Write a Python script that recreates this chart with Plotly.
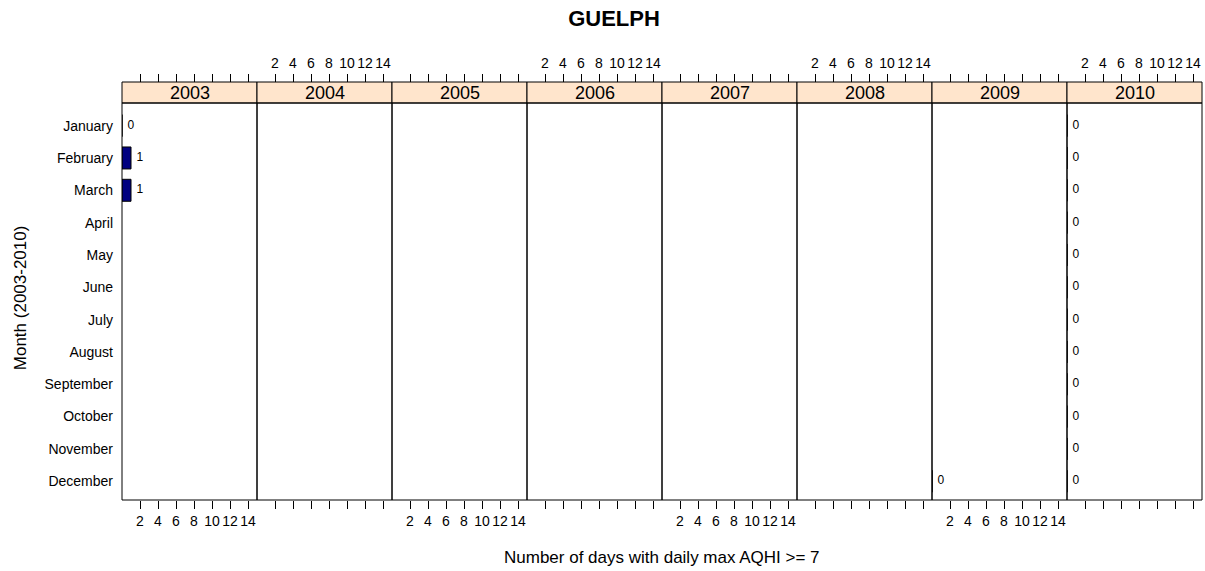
import plotly.graph_objects as go

years = ["2003", "2004", "2005", "2006", "2007", "2008", "2009", "2010"]
months = ["January", "February", "March", "April", "May", "June", "July",
          "August", "September", "October", "November", "December"]
N = None
counts_2003 = [0, 1, 1, N, N, N, N, N, N, N, N, N]
counts_2004 = [N] * 12
counts_2005 = [N] * 12
counts_2006 = [N] * 12
counts_2007 = [N] * 12
counts_2008 = [N] * 12
counts_2009 = [N, N, N, N, N, N, N, N, N, N, N, 0]
counts_2010 = [0, 0, 0, 0, 0, 0, 0, 0, 0, 0, 0, 0]
all_counts = [counts_2003, counts_2004, counts_2005, counts_2006,
              counts_2007, counts_2008, counts_2009, counts_2010]
x_ticks = [2, 4, 6, 8, 10, 12, 14]

FONT = "Liberation Sans, Arial, sans-serif"
W, H = 1205, 571
ML, MR, MT, MB = 122, 3, 82, 71
plot_h = H - MT - MB
ytop = 397 / plot_h  # top of panel area (strip above)
npan = len(years)

fig = go.Figure()
layout = dict(
    width=W, height=H, margin=dict(l=ML, r=MR, t=MT, b=MB, autoexpand=False),
    paper_bgcolor="white", plot_bgcolor="white", showlegend=False,
    font=dict(family=FONT, color="black"),
)

shapes, annotations = [], []
for i, (yr, cnt) in enumerate(zip(years, all_counts)):
    xa = "x" if i == 0 else f"x{i+1}"
    xt = f"x{i+1+npan}"
    d0, d1 = i / npan, (i + 1) / npan
    ys = [m for m, v in enumerate(cnt) if v is not None]
    xs = [v for v in cnt if v is not None]
    fig.add_trace(go.Bar(x=xs, y=ys, orientation="h", width=0.68,
                         marker=dict(color="#000080", line=dict(color="black", width=1)),
                         xaxis=xa, yaxis="y", hoverinfo="skip"))
    fig.add_trace(go.Scatter(x=xs, y=ys, mode="markers+text", text=[str(v) for v in xs],
                             textposition="middle right",
                             marker=dict(size=7, opacity=0),
                             textfont=dict(size=12, family=FONT, color="black"),
                             xaxis=xa, yaxis="y", hoverinfo="skip"))
    fig.add_trace(go.Scatter(x=[], y=[], xaxis=xt, yaxis="y", hoverinfo="skip"))
    common = dict(range=[0, 15], tickvals=x_ticks, ticks="outside", ticklen=8,
                  tickcolor="black", tickwidth=1, showgrid=False, zeroline=False,
                  showline=False, fixedrange=True, automargin=False,
                  tickfont=dict(size=14, family=FONT, color="black"))
    layout["xaxis" if i == 0 else f"xaxis{i+1}"] = dict(
        domain=[d0, d1], anchor="y", side="bottom",
        showticklabels=(i % 2 == 0), **common)
    layout[f"xaxis{i+1+npan}"] = dict(
        domain=[d0, d1], anchor="free", position=1, side="top",
        overlaying=xa, showticklabels=(i % 2 == 1), **common)
    shapes.append(dict(type="rect", xref="paper", yref="paper", x0=d0, x1=d1,
                       y0=ytop, y1=1, fillcolor="#FFE5CC",
                       line=dict(color="black", width=1), layer="below"))
    shapes.append(dict(type="rect", xref="paper", yref="paper", x0=d0, x1=d1,
                       y0=0, y1=ytop, line=dict(color="black", width=1), layer="above"))
    annotations.append(dict(text=yr, xref="paper", yref="paper", x=(d0 + d1) / 2,
                            y=(ytop + 1) / 2, xanchor="center", yanchor="middle",
                            showarrow=False, font=dict(size=18, family=FONT, color="black")))

layout["yaxis"] = dict(domain=[0, ytop], range=[11.58, -0.70], tickvals=list(range(12)),
                       ticktext=months, ticks="", showgrid=False, zeroline=False,
                       showline=False, fixedrange=True, ticklabelstandoff=8,
                       automargin=False,
                       tickfont=dict(size=14, family=FONT, color="black"))

annotations.append(dict(text="Number of days with daily max AQHI >= 7", xref="paper",
                        yref="paper", x=0.5, y=(500 - 557) / plot_h, xanchor="center",
                        yanchor="middle", showarrow=False,
                        font=dict(size=17, family=FONT, color="black")))
annotations.append(dict(text="Month (2003-2010)", xref="paper", yref="paper",
                        x=(20.7 - ML) / (W - ML - MR), y=(500 - 297.5) / plot_h,
                        xanchor="center", yanchor="middle", textangle=-90,
                        showarrow=False, font=dict(size=17, family=FONT, color="black")))

layout["title"] = dict(text="<b>GUELPH</b>", xref="container", yref="container",
                       x=614 / W, y=1 - 18 / H, xanchor="center", yanchor="middle",
                       font=dict(size=22, family=FONT, color="black"))
layout["shapes"] = shapes
layout["annotations"] = annotations
fig.update_layout(**layout)
fig.write_html("out.html", config={"displayModeBar": False},
               post_script="document.body.style.margin='0';document.body.style.overflow='hidden';")
